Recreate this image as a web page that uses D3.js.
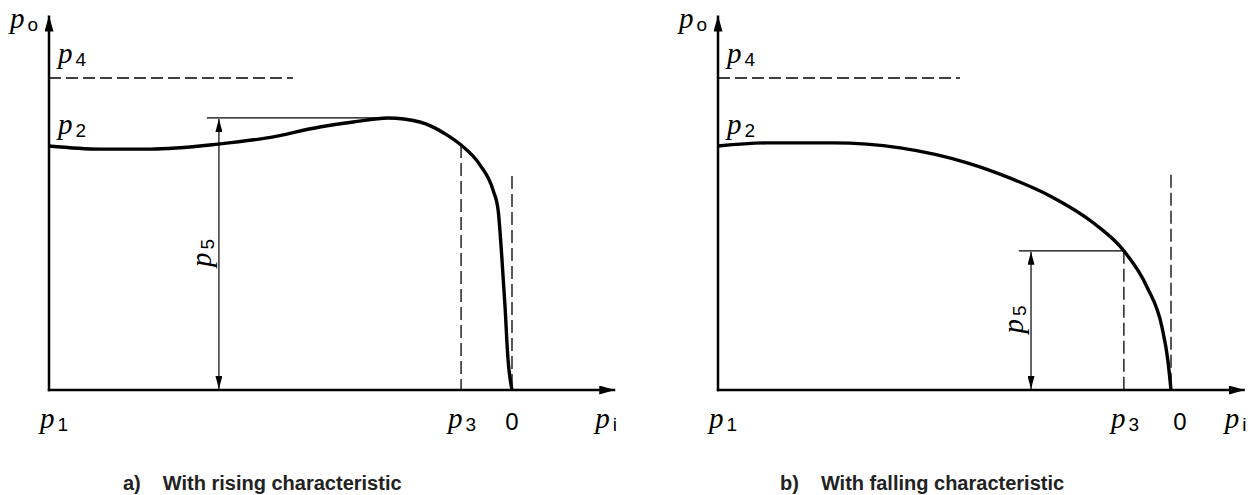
<!DOCTYPE html>
<html>
<head>
<meta charset="utf-8">
<script src="https://cdn.jsdelivr.net/npm/d3@7"></script>
<style>
  body { margin: 0; background: #fff; }
  svg { display: block; }
  .lbl-p { font-family: "Liberation Serif", "DejaVu Serif", serif; font-style: italic; font-size: 29px; fill: #000; }
  .lbl-sub { font-family: "Liberation Sans", Arial, sans-serif; font-size: 19px; fill: #000; }
  .lbl-zero { font-family: "Liberation Sans", Arial, sans-serif; font-size: 24px; fill: #000; }
  .caption { font-family: "Liberation Sans", Arial, sans-serif; font-weight: bold; font-size: 20px; fill: #222; }
</style>
</head>
<body>
<div id="chart"></div>
<script>
// curve a) rising characteristic (x: 0 = p1 .. 100 = zero point, y: 0 .. 100 = p4)
var risingPi = [0, 11, 21.8, 36.5, 47.1, 58.5, 65.7, 73.2, 80.1, 86, 89, 93.1, 95.9, 97, 97.8, 98.5, 99.1, 100];
var risingPo = [78.2, 77.2, 77.2, 78.8, 80.8, 84.3, 85.9, 87.2, 85.9, 81.7, 78.5, 72.1, 64.1, 57.7, 42.6, 26.6, 10.6, 0];

// curve b) falling characteristic
var fallingPi = [0, 10.8, 25.4, 40.2, 55, 64.5, 73.3, 83.2, 89.6, 94.7, 98, 99.3, 100];
var fallingPo = [78.2, 79.2, 79.2, 77.6, 72.8, 67.9, 62.2, 53.2, 44.6, 33, 20.2, 9.6, 0];

// marker positions per panel: [rising, falling]
var p3At = [89, 89.6];
var p3Level = [78.5, 44.6];
var p5At = [36.7, 69.1];
var p5Level = [87.2, 44.6];
var p5LineFrom = [34.1, 66.4];
var p5LineTo = [73.2, 89.6];
var p4Level = 100;
var p4End = [52.7, 53.4];
var zeroLineTop = [68.6, 69];
var xAxisEnd = [122.3, 116.3];
var yAxisEnd = 120;

var captions = [["a)", "With rising characteristic"], ["b)", "With falling characteristic"]];
var bottomLabels = [["p", "1"], ["p", "3"], ["0", ""], ["p", "i"]];

var width = 1251, height = 495;

var svg = d3.select("#chart").append("svg")
    .attr("width", width)
    .attr("height", height);

var defs = svg.append("defs");
function arrowMarker(id, len, half) {
  defs.append("marker")
      .attr("id", id)
      .attr("markerUnits", "userSpaceOnUse")
      .attr("viewBox", `0 ${-half} ${len} ${half * 2}`)
      .attr("refX", len)
      .attr("refY", 0)
      .attr("markerWidth", len)
      .attr("markerHeight", half * 2)
      .attr("orient", "auto-start-reverse")
      .append("path")
        .attr("d", `M0,${-half}L${len},0L0,${half}Z`)
        .attr("fill", "#000");
}
arrowMarker("axis-arrow", 16, 4.5);
arrowMarker("dim-arrow", 13, 3.5);

// pixel frame of each panel
var panels = [
  {x0: 49, x100: 512, pi: risingPi, po: risingPo, capX: 123},
  {x0: 718, x100: 1171, pi: fallingPi, po: fallingPo, capX: 780}
];

var y = d3.scaleLinear().domain([0, 100]).range([390, 78]);

panels.forEach(function(panel, i) {
  var x = d3.scaleLinear().domain([0, 100]).range([panel.x0, panel.x100]);
  var g = svg.append("g");

  // p4 dashed level
  g.append("line")
      .attr("x1", x(0)).attr("x2", x(p4End[i]))
      .attr("y1", y(p4Level)).attr("y2", y(p4Level))
      .attr("stroke", "#000").attr("stroke-width", 1.3)
      .attr("stroke-dasharray", "12,5");

  // p3 dashed
  g.append("line")
      .attr("x1", x(p3At[i])).attr("x2", x(p3At[i]))
      .attr("y1", y(p3Level[i])).attr("y2", y(0))
      .attr("stroke", "#000").attr("stroke-width", 1.3)
      .attr("stroke-dasharray", "13,5");

  // zero dashed
  g.append("line")
      .attr("x1", x(100)).attr("x2", x(100))
      .attr("y1", y(zeroLineTop[i])).attr("y2", y(0))
      .attr("stroke", "#000").attr("stroke-width", 1.3)
      .attr("stroke-dasharray", "13,5");

  // p5 dimension
  g.append("line")
      .attr("x1", x(p5LineFrom[i])).attr("x2", x(p5LineTo[i]))
      .attr("y1", y(p5Level[i])).attr("y2", y(p5Level[i]))
      .attr("stroke", "#000").attr("stroke-width", 1.2);
  g.append("line")
      .attr("x1", x(p5At[i])).attr("x2", x(p5At[i]))
      .attr("y1", y(0) - 1).attr("y2", y(p5Level[i]) + 1)
      .attr("stroke", "#000").attr("stroke-width", 1.2)
      .attr("marker-start", "url(#dim-arrow)")
      .attr("marker-end", "url(#dim-arrow)");

  // axes
  g.append("line")
      .attr("x1", x(0)).attr("x2", x(0))
      .attr("y1", y(0) + 1.2).attr("y2", y(yAxisEnd))
      .attr("stroke", "#000").attr("stroke-width", 2.5)
      .attr("marker-end", "url(#axis-arrow)");
  g.append("line")
      .attr("x1", x(0) - 1.2).attr("x2", x(xAxisEnd[i]))
      .attr("y1", y(0)).attr("y2", y(0))
      .attr("stroke", "#000").attr("stroke-width", 2.5)
      .attr("marker-end", "url(#axis-arrow)");

  // characteristic curve
  var line = d3.line()
      .x(function(d) { return x(d[0]); })
      .y(function(d) { return y(d[1]); })
      .curve(d3.curveMonotoneX);
  g.append("path")
      .datum(d3.zip(panel.pi, panel.po))
      .attr("d", line)
      .attr("fill", "none")
      .attr("stroke", "#000")
      .attr("stroke-width", 3.4);

  // labels with subscripts
  function pLabel(px, py, sub, rotate) {
    var t = g.append("text").attr("x", px).attr("y", py);
    if (rotate) t.attr("transform", `rotate(-90, ${px}, ${py})`);
    t.append("tspan").attr("class", "lbl-p").text("p");
    t.append("tspan").attr("class", "lbl-sub").attr("dx", 3).attr("dy", 3).text(sub);
    return t;
  }
  pLabel(x(0) - 39, 28, "o");
  pLabel(x(0) + 9, 63, "4");
  pLabel(x(0) + 9, 134, "2");
  pLabel(x(p5At[i]) - 8, (y(0) + y(p5Level[i])) / 2 + 13, "5", true);

  var labelX = [x(0) - 9, x(p3At[i]) - 13, x(100), x(xAxisEnd[i]) - 20];
  bottomLabels.forEach(function(l, j) {
    if (l[0] === "0") {
      g.append("text").attr("class", "lbl-zero")
          .attr("x", x(100) + (i === 0 ? 0 : 9)).attr("y", 430)
          .attr("text-anchor", "middle").text("0");
    } else {
      pLabel(labelX[j], 428, l[1]);
    }
  });

  // caption
  var cap = g.append("text").attr("class", "caption")
      .attr("x", panel.capX).attr("y", 490);
  cap.append("tspan").text(captions[i][0]);
  cap.append("tspan").attr("dx", 22).text(captions[i][1]);
});
</script>
</body>
</html>
